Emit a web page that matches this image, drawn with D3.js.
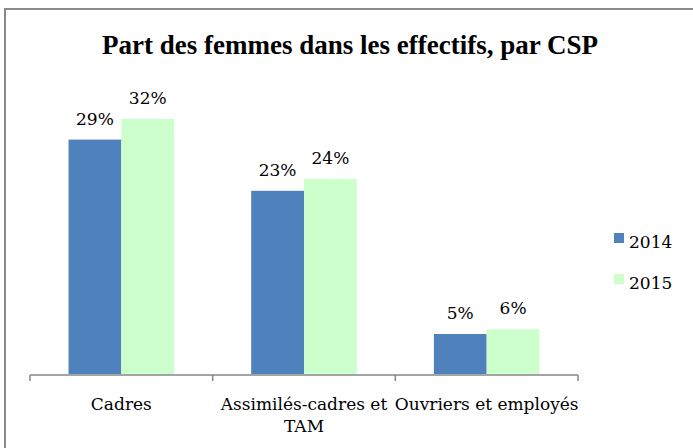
<!DOCTYPE html>
<html lang="fr">
<head>
<meta charset="UTF-8">
<title>Part des femmes dans les effectifs, par CSP</title>
<script src="https://cdn.jsdelivr.net/npm/d3@7"></script>
<style>
    body { margin: 0; background: #fff; }
</style>
</head>
<body>
<svg id="chart" width="693" height="448"></svg>
<script>
    // data
    const categories = ["Cadres", "Assimilés-cadres et TAM", "Ouvriers et employés"];
    const years = ["2014", "2015"];
    const values2014 = [29.3, 22.9, 5.0];
    const values2015 = [31.9, 24.4, 5.6];
    const labels2014 = ["29%", "23%", "5%"];
    const labels2015 = ["32%", "24%", "6%"];

    const colors = ["#4f81bd", "#ccffcc"];
    const bodyFont = "DejaVu Serif";

    const svg = d3.select("#chart");

    // chart frame (only top and left edges fall inside the picture)
    svg.append("rect")
        .attr("x", 5).attr("y", 9)
        .attr("width", 720).attr("height", 460)
        .attr("fill", "none")
        .attr("stroke", "#8a8a8a")
        .attr("stroke-width", 2);

    svg.append("text")
        .attr("x", 350).attr("y", 54)
        .attr("text-anchor", "middle")
        .attr("font-family", "Liberation Serif")
        .attr("font-size", 27)
        .attr("font-weight", "bold")
        .text("Part des femmes dans les effectifs, par CSP");

    const plot = { left: 30, right: 578, top: 94, bottom: 374 };

    const x0 = d3.scaleBand()
        .domain(categories)
        .range([plot.left, plot.right])
        .paddingInner(0)
        .paddingOuter(0);

    const x1 = d3.scaleBand()
        .domain(years)
        .range([0, x0.bandwidth()])
        .paddingOuter(0.73)
        .paddingInner(0);

    const y = d3.scaleLinear()
        .domain([0, 35])
        .range([plot.bottom, plot.top]);

    const rows = categories.map((c, i) => ({
        cat: c,
        bars: [
            { year: years[0], v: values2014[i], label: labels2014[i] },
            { year: years[1], v: values2015[i], label: labels2015[i] }
        ]
    }));

    const groups = svg.selectAll("g.grp")
        .data(rows)
        .join("g")
        .attr("class", "grp")
        .attr("transform", d => `translate(${x0(d.cat)},0)`);

    groups.selectAll("rect")
        .data(d => d.bars)
        .join("rect")
        .attr("x", d => x1(d.year))
        .attr("y", d => y(d.v))
        .attr("width", x1.bandwidth())
        .attr("height", d => y(0) - y(d.v))
        .attr("fill", (d, i) => colors[i]);

    groups.selectAll("text.val")
        .data(d => d.bars)
        .join("text")
        .attr("class", "val")
        .attr("x", d => x1(d.year) + x1.bandwidth() / 2)
        .attr("y", d => y(d.v) - 15)
        .attr("text-anchor", "middle")
        .attr("font-family", bodyFont)
        .attr("font-size", 17)
        .text(d => d.label);

    // category axis
    const axis = svg.append("g")
        .attr("transform", `translate(0,${plot.bottom + 1})`);
    axis.append("line")
        .attr("x1", plot.left).attr("x2", plot.right)
        .attr("stroke", "#868686").attr("stroke-width", 1.5);
    const tickXs = categories.map(c => x0(c)).concat([plot.right]);
    axis.selectAll("line.tick")
        .data(tickXs)
        .join("line")
        .attr("class", "tick")
        .attr("x1", d => d).attr("x2", d => d)
        .attr("y1", 0).attr("y2", 6)
        .attr("stroke", "#868686").attr("stroke-width", 1.5);

    const catText = axis.selectAll("text.cat")
        .data(categories)
        .join("text")
        .attr("class", "cat")
        .attr("x", d => x0(d) + x0.bandwidth() / 2)
        .attr("y", 35)
        .attr("text-anchor", "middle")
        .attr("font-family", bodyFont)
        .attr("font-size", 17)
        .text(d => d);
    catText.each(function (d) { wrap(d3.select(this), x0.bandwidth() + 4); });

    function wrap(text, width) {
        const words = text.text().split(/\s+/);
        const xPos = text.attr("x");
        text.text(null);
        let line = [];
        let tspan = text.append("tspan").attr("x", xPos).attr("dy", 0);
        words.forEach(w => {
            line.push(w);
            tspan.text(line.join(" "));
            if (tspan.node().getComputedTextLength() > width && line.length > 1) {
                line.pop();
                tspan.text(line.join(" "));
                line = [w];
                tspan = text.append("tspan").attr("x", xPos).attr("dy", 22).text(w);
            }
        });
    }

    // legend
    const legend = svg.append("g").attr("transform", "translate(614,233)");
    const li = legend.selectAll("g")
        .data(years)
        .join("g")
        .attr("transform", (d, i) => `translate(0,${i * 41})`);
    li.append("rect")
        .attr("width", 10).attr("height", 10)
        .attr("fill", (d, i) => colors[i]);
    li.append("text")
        .attr("x", 15).attr("y", 15)
        .attr("font-family", bodyFont)
        .attr("font-size", 17)
        .text(d => d);
</script>
</body>
</html>
